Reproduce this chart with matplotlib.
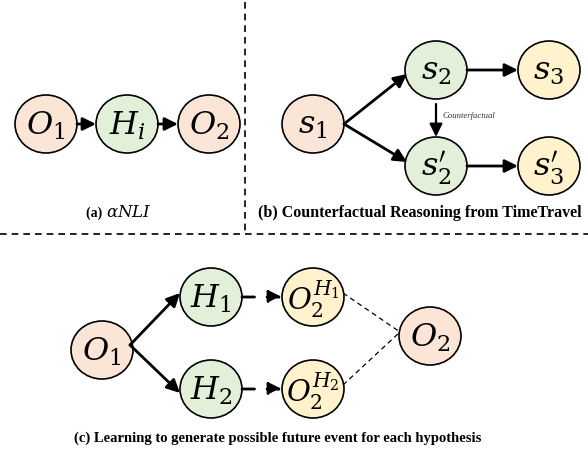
import matplotlib
matplotlib.use("Agg")
import math
import matplotlib.pyplot as plt
from matplotlib.patches import Ellipse, FancyArrowPatch

plt.rcParams["mathtext.fontset"] = "dejavuserif"

# ============================================================
# node labels / colours
# ============================================================
PEACH = "#fbe5d6"
GREEN = "#e2f0d9"
YELLOW = "#fff2cc"

# (a) alpha-NLI
a_labels = [r"$O_1$", r"$H_i$", r"$O_2$"]
a_colors = [PEACH, GREEN, PEACH]
a_x = [46, 127, 209]
a_y = [124, 124, 124]

# (b) TimeTravel
b_labels = [r"$s_1$", r"$s_2$", r"$s_3$", r"$s_2'$", r"$s_3'$"]
b_colors = [PEACH, GREEN, YELLOW, GREEN, YELLOW]
b_x = [313, 436, 549, 436, 549]
b_y = [124, 70, 70, 166, 166]

# (c) ours
c_labels = [r"$O_1$", r"$H_1$", r"$H_2$", r"$O_2^{H_1}$", r"$O_2^{H_2}$", r"$O_2$"]
c_colors = [PEACH, GREEN, GREEN, YELLOW, YELLOW, PEACH]
c_x = [102, 211, 211, 313, 313, 430]
c_y = [350, 297, 389, 297, 389, 336]

captions = ["(a) ", r"$\alpha NLI$",
            "(b) Counterfactual Reasoning from TimeTravel",
            "(c) Learning to generate possible future event for each hypothesis"]

RX, RY = 31, 29


def node(ax, x, y, label, color, fs=23):
    ax.add_patch(Ellipse((x, y), 2 * RX, 2 * RY, facecolor=color,
                         edgecolor="black", lw=1.2, zorder=2))
    ax.text(x, y + 2, label, ha="center", va="center", fontsize=fs, zorder=3)


def arrow(ax, p0, p1, ls="-", lw=2.0):
    ax.add_patch(FancyArrowPatch(p0, p1, arrowstyle="-|>,head_length=0.65,head_width=0.32",
                                 mutation_scale=12, lw=lw, color="black",
                                 linestyle=ls, shrinkA=0, shrinkB=0, zorder=4))


def edge_pts(x0, y0, x1, y1):
    ang = math.atan2(y1 - y0, x1 - x0)
    c, s = math.cos(ang), math.sin(ang)
    return (x0 + RX * c, y0 + RY * s), (x1 - RX * c, y1 - RY * s)


fig = plt.figure(figsize=(5.88, 4.57), dpi=100)
ax = fig.add_axes([0, 0, 1, 1])
ax.set_xlim(0, 588)
ax.set_ylim(457, 0)
ax.axis("off")

# separators
ax.plot([245, 245], [2, 234], color="black", lw=1.2, ls=(0, (4, 3)))
ax.plot([0, 588], [234, 234], color="black", lw=1.2, ls=(0, (4, 3)))

# ---------------- (a)
for x, y, l, c in zip(a_x, a_y, a_labels, a_colors):
    node(ax, x, y, l, c)
for i in range(2):
    p0, p1 = edge_pts(a_x[i], a_y[i], a_x[i + 1], a_y[i + 1])
    arrow(ax, p0, p1)

# ---------------- (b)
for x, y, l, c in zip(b_x, b_y, b_labels, b_colors):
    node(ax, x, y, l, c)
arrow(ax, (b_x[0] + RX, b_y[0]), (b_x[1] - RX + 2, b_y[1] + 4))
arrow(ax, (b_x[0] + RX, b_y[0]), (b_x[3] - RX + 2, b_y[3] - 4))
for i, j in [(1, 2), (3, 4)]:
    p0, p1 = edge_pts(b_x[i], b_y[i], b_x[j], b_y[j])
    arrow(ax, p0, p1)
arrow(ax, (b_x[1], b_y[1] + RY + 5), (b_x[3], b_y[3] - RY), lw=1.6)
ax.text(b_x[1] + 7, (b_y[1] + b_y[3]) / 2 - 2, "Counterfactual", fontsize=6.3,
        family="Liberation Serif", style="italic", va="center", color="#333333")

# ---------------- (c)
for x, y, l, c in zip(c_x, c_y, c_labels, c_colors):
    node(ax, x, y, l, c, fs=23 if len(l) < 8 else 21)
arrow(ax, (c_x[0] + RX - 3, c_y[0] - 5), (c_x[1] - RX, c_y[1] - 4))
arrow(ax, (c_x[0] + RX - 3, c_y[0] - 5), (c_x[2] - RX, c_y[2] + 4))
for i, j in [(1, 3), (2, 4)]:
    p0, p1 = edge_pts(c_x[i], c_y[i], c_x[j], c_y[j])
    arrow(ax, p0, p1, ls=(0, (4.5, 4.5)))
for i in [3, 4]:
    ax.plot([c_x[i] + RX - 1, c_x[5] - RX + 1], [c_y[i] - 4, c_y[5] - 4],
            color="black", lw=0.9, ls=(0, (4, 3)), zorder=1)

# captions
ax.text(106, 213, captions[0], ha="right", va="center", fontsize=10,
        family="Liberation Serif", weight="bold")
ax.text(106, 212, captions[1], ha="left", va="center", fontsize=12)
ax.text(420, 213, captions[2], ha="center", va="center", fontsize=11.5,
        family="Liberation Serif", weight="bold")
ax.text(278, 438, captions[3], ha="center", va="center", fontsize=10.5,
        family="Liberation Serif", weight="bold")

fig.savefig("out.png", dpi=100)
